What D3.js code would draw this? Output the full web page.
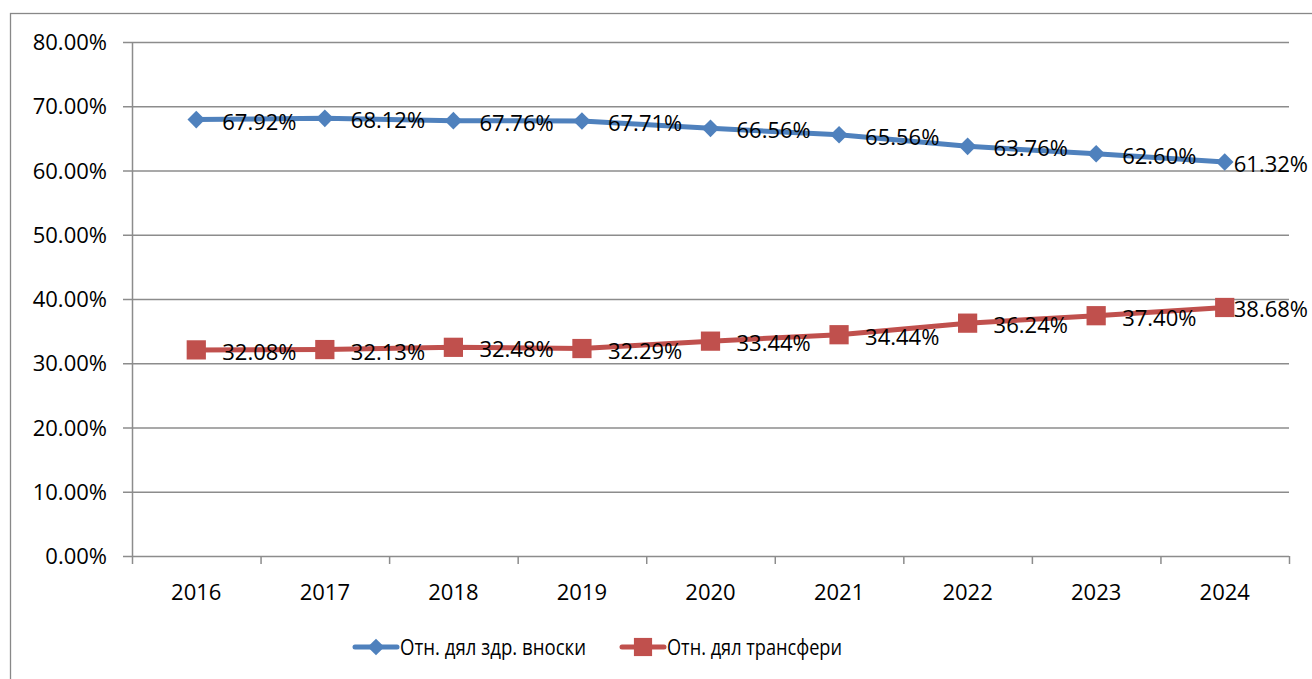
<!DOCTYPE html>
<html>
<head>
<meta charset="utf-8">
<script src="https://cdn.jsdelivr.net/npm/d3@7"></script>
<style>
  body { margin: 0; background: #fff; }
  text { font-family: "Open Sans", sans-serif; }
</style>
</head>
<body>
<svg width="1312" height="679"></svg>
<script>
var years = ["2016", "2017", "2018", "2019", "2020", "2021", "2022", "2023", "2024"];
var contrib = [67.92, 68.12, 67.76, 67.71, 66.56, 65.56, 63.76, 62.60, 61.32];
var transfers = [32.08, 32.13, 32.48, 32.29, 33.44, 34.44, 36.24, 37.40, 38.68];
var yTicks = [0, 10, 20, 30, 40, 50, 60, 70, 80];
var names = ["Отн. дял здр. вноски", "Отн. дял трансфери"];
var colors = ["#4F81BD", "#C0504D"];

var svg = d3.select("svg"),
    width = +svg.attr("width"),
    height = +svg.attr("height");

var plotLeft = 132, plotRight = 1289, plotTop = 42, plotBottom = 556;
var fs = 22;

// outer chart frame
svg.append("rect")
    .attr("x", 10.5).attr("y", 13.5)
    .attr("width", width + 20).attr("height", height + 20)
    .attr("fill", "none")
    .attr("stroke", "#888")
    .attr("stroke-width", 1.3);

var x = d3.scaleBand().domain(years).range([plotLeft, plotRight]);
var y = d3.scaleLinear().domain([0, 80]).range([plotBottom, plotTop]);

// gridlines
svg.append("g")
    .selectAll("line")
    .data(yTicks)
    .join("line")
    .attr("x1", plotLeft - 9).attr("x2", plotRight)
    .attr("y1", d => y(d) + 0.5).attr("y2", d => y(d) + 0.5)
    .attr("stroke", "#8c8c8c")
    .attr("stroke-width", 1.5);

// y axis line
svg.append("line")
    .attr("x1", plotLeft + 0.5).attr("x2", plotLeft + 0.5)
    .attr("y1", plotTop).attr("y2", plotBottom)
    .attr("stroke", "#8c8c8c").attr("stroke-width", 1.5);

// x ticks
var xt = years.map(d => x(d)).concat([plotRight]);
svg.append("g")
    .selectAll("line")
    .data(xt)
    .join("line")
    .attr("x1", d => d + 0.5).attr("x2", d => d + 0.5)
    .attr("y1", plotBottom).attr("y2", plotBottom + 8)
    .attr("stroke", "#8c8c8c").attr("stroke-width", 1.5);

// y labels
svg.append("g")
    .selectAll("text")
    .data(yTicks)
    .join("text")
    .attr("x", 107)
    .attr("y", d => y(d) + 8)
    .attr("text-anchor", "end")
    .attr("font-size", fs)
    .text(d => d3.format(".2f")(d) + "%");

// x labels
svg.append("g")
    .selectAll("text")
    .data(years)
    .join("text")
    .attr("x", d => x(d) + x.bandwidth() / 2)
    .attr("y", plotBottom + 44)
    .attr("text-anchor", "middle")
    .attr("font-size", fs)
    .text(d => d);

var cx = d => x(d) + x.bandwidth() / 2;
var line = d3.line().x((d, i) => cx(years[i])).y(d => y(d));

[contrib, transfers].forEach((vals, k) => {
    svg.append("path")
        .datum(vals)
        .attr("d", line)
        .attr("fill", "none")
        .attr("stroke", colors[k])
        .attr("stroke-width", 5)
        .attr("stroke-linejoin", "round");

    svg.append("g")
        .selectAll("path")
        .data(vals)
        .join("path")
        .attr("d", d3.symbol().type(d3.symbolSquare).size(k == 0 ? 155 : 370))
        .attr("transform", (d, i) => "translate(" + cx(years[i]) + "," + y(d) + ")" + (k == 0 ? " rotate(45)" : ""))
        .attr("fill", colors[k]);

    svg.append("g")
        .selectAll("text")
        .data(vals)
        .join("text")
        .attr("x", (d, i) => cx(years[i]) + (i == 8 ? 9 : 26))
        .attr("y", d => y(d) + 10)
        .attr("font-size", fs)
        .text(d => d3.format(".2f")(d) + "%");
});

// legend
var lx = [355, 622];
var lw = [186, 175];
names.forEach((n, k) => {
    var g = svg.append("g");
    g.append("line")
        .attr("x1", lx[k]).attr("x2", lx[k] + 42)
        .attr("y1", 647).attr("y2", 647)
        .attr("stroke", colors[k]).attr("stroke-width", 5)
        .attr("stroke-linecap", "round");
    g.append("path")
        .attr("d", d3.symbol().type(d3.symbolSquare).size(k == 0 ? 140 : 330))
        .attr("transform", "translate(" + (lx[k] + 21) + ",647)" + (k == 0 ? " rotate(45)" : ""))
        .attr("fill", colors[k]);
    g.append("text")
        .attr("x", lx[k] + 45)
        .attr("y", 655)
        .attr("font-size", fs)
        .attr("textLength", lw[k])
        .attr("lengthAdjust", "spacingAndGlyphs")
        .text(n);
});
</script>
</body>
</html>
